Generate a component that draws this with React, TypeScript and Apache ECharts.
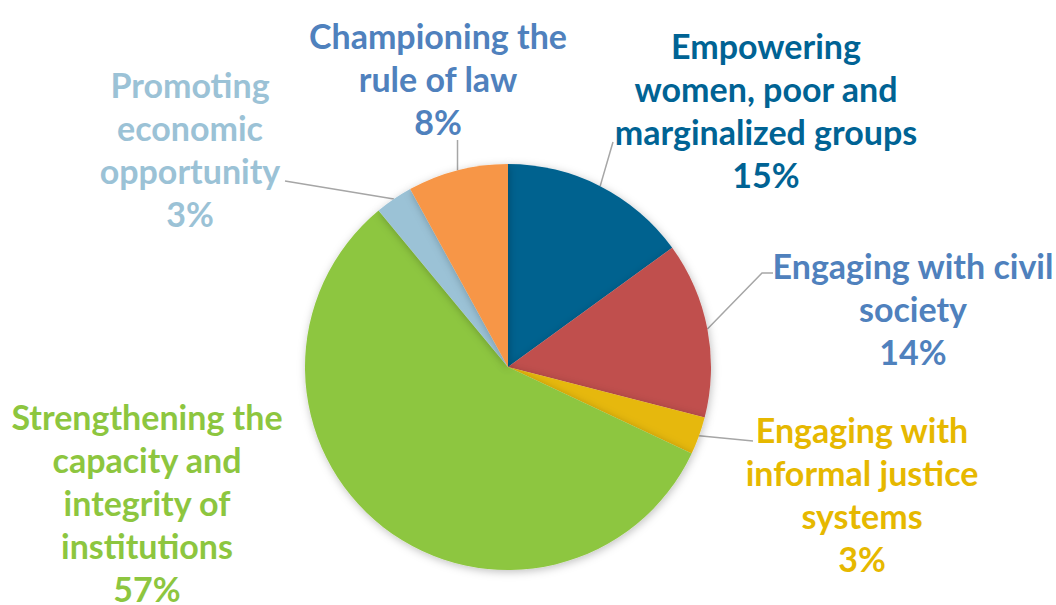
import React, { useEffect, useRef } from "react";
import * as echarts from "echarts";

const categories = [
  "Empowering\nwomen, poor and\nmarginalized groups",
  "Engaging with civil\nsociety",
  "Engaging with\ninformal justice\nsystems",
  "Strengthening the\ncapacity and\nintegrity of\ninstitutions",
  "Promoting\neconomic\nopportunity",
  "Championing the\nrule of law",
];
const values = [15, 14, 3, 57, 3, 8];
const sliceColors = ["#00628F", "#C0504D", "#E6B80E", "#8DC63F", "#9BC2D6", "#F79646"];
const labelColors = ["#006394", "#4F81BD", "#E6B800", "#8DC63F", "#9BC2D6", "#4F81BD"];

// label block centres (px)
const labelPos: [number, number][] = [
  [766, 110],
  [913, 308],
  [862, 494],
  [147, 502],
  [190, 149],
  [438, 78],
];

export default function App() {
  const ref = useRef<HTMLDivElement>(null);
  useEffect(() => {
    if (!ref.current) return;
    const chart = echarts.init(ref.current, undefined, { renderer: "svg" });
    const cx = 508, cy = 367, r = 203;
    const edge = (i: number) => {
      let acc = 0;
      const tot = values.reduce((a, b) => a + b, 0);
      for (let k = 0; k < i; k++) acc += values[k];
      const mid = ((acc + values[i] / 2) / tot) * Math.PI * 2;
      return [cx + r * Math.sin(mid), cy - r * Math.cos(mid)];
    };
    chart.setOption({
      animation: false,
      backgroundColor: "#ffffff",
      series: [
        {
          type: "pie",
          center: [cx, cy],
          radius: r,
          startAngle: 90,
          clockwise: true,
          avoidLabelOverlap: false,
          itemStyle: {
            borderWidth: 0,
            shadowBlur: 8,
            shadowColor: "rgba(0,0,0,0.25)",
            shadowOffsetX: 1,
            shadowOffsetY: 2,
          },
          label: {
            show: true,
            position: "outside",
            formatter: "{b}\n{c}%",
            fontFamily: "Lato",
            fontWeight: "bold",
            fontSize: 34,
            lineHeight: 43,
            align: "center",
          },
          labelLine: {
            show: true,
            length: 20,
            length2: 10,
            lineStyle: { color: "#A6A6A6", width: 1.5 },
          },
          labelLayout: (params: any) => {
            const i = params.dataIndex;
            const p0 =
              params.labelLinePoints && params.labelLinePoints[0]
                ? params.labelLinePoints[0]
                : edge(i);
            let pts: number[][] = [];
            if (i === 0) pts = [p0, [613, 142]];
            else if (i === 1) pts = [p0, [762, 273], [773, 273]];
            else if (i === 2) pts = [p0, [753, 441]];
            else if (i === 4) pts = [p0, [285, 181]];
            else if (i === 5) pts = [p0, [p0[0], 140]];
            else pts = [p0, p0];
            return {
              x: labelPos[i][0],
              y: labelPos[i][1],
              align: "center",
              verticalAlign: "middle",
              labelLinePoints: pts,
            };
          },
          data: categories.map((name, i) => ({
            name,
            value: values[i],
            itemStyle: { color: sliceColors[i] },
            label: { color: labelColors[i] },
            labelLine: { show: i !== 3 },
          })),
        },
      ],
    });
    return () => chart.dispose();
  }, []);
  return (
    <div
      ref={ref}
      style={{ position: "absolute", left: 0, top: 0, width: 1056, height: 605 }}
    />
  );
}
